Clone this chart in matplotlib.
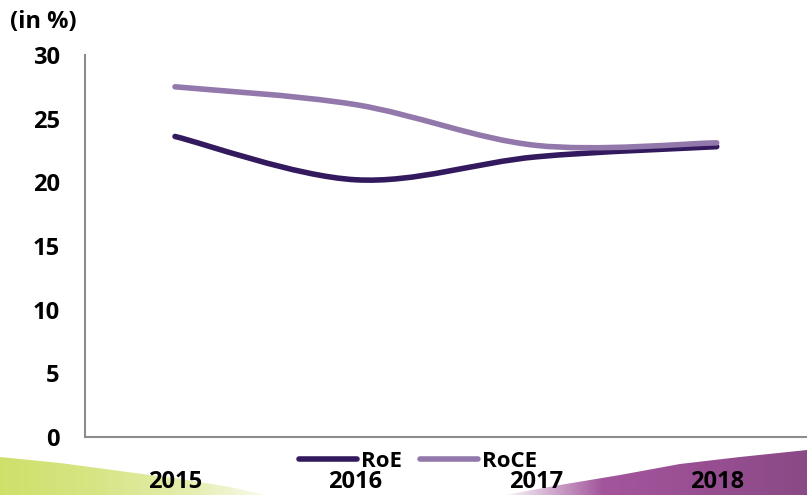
import numpy as np
import matplotlib.pyplot as plt
from matplotlib.path import Path
from matplotlib.patches import PathPatch, Polygon
from matplotlib.lines import Line2D
from matplotlib.colors import LinearSegmentedColormap

years = ["2015", "2016", "2017", "2018"]
roe = [23.6, 20.2, 22.0, 22.8]
roce = [27.5, 26.1, 22.9, 23.1]

roe_color = "#331a5e"
roce_color = "#9379ab"

plt.rcParams["font.family"] = ["Open Sans", "DejaVu Sans"]
plt.rcParams["font.weight"] = "bold"


def smooth_path(xs, ys):
    # excel-style smoothed line: catmull-rom control points -> cubic bezier
    pts = np.column_stack([xs, ys]).astype(float)
    n = len(pts)
    verts = [pts[0]]
    codes = [Path.MOVETO]
    for i in range(n - 1):
        p0 = pts[max(i - 1, 0)]
        p1 = pts[i]
        p2 = pts[i + 1]
        p3 = pts[min(i + 2, n - 1)]
        verts += [p1 + (p2 - p0) / 6, p2 - (p3 - p1) / 6, p2]
        codes += [Path.CURVE4] * 3
    return Path(verts, codes)


fig = plt.figure(figsize=(8.07, 4.95), dpi=100)

# background swooshes
bg = fig.add_axes([0, 0, 1, 1], zorder=0)
bg.set_xlim(0, 807)
bg.set_ylim(495, 0)
bg.axis("off")

green = LinearSegmentedColormap.from_list("g", ["#cfe06a", "#d8e585", "#e6eeb0", "#ffffff"])
grad = np.linspace(0, 1, 256).reshape(1, -1)
im = bg.imshow(grad, cmap=green, extent=[0, 290, 495, 440], aspect="auto")
gpoly = Polygon([(0, 457), (60, 463), (120, 471), (180, 479), (230, 487),
                 (265, 495), (0, 495)], closed=True, transform=bg.transData)
im.set_clip_path(gpoly)

purple = LinearSegmentedColormap.from_list("p", ["#ffffff", "#a3559c", "#984f92", "#8a4a86"])
im2 = bg.imshow(grad, cmap=purple, extent=[500, 807, 495, 440], aspect="auto")
ppoly = Polygon([(505, 495), (560, 485), (620, 475), (680, 464), (740, 457),
                 (807, 450), (807, 495)], closed=True, transform=bg.transData)
im2.set_clip_path(ppoly)

ax = fig.add_axes([0.105, 0.117, 0.895, 0.772], zorder=1)
ax.patch.set_alpha(0)

x = np.arange(len(years))
ax.add_patch(PathPatch(smooth_path(x, roe), fill=False, edgecolor=roe_color,
                       lw=4, capstyle="round"))
ax.add_patch(PathPatch(smooth_path(x, roce), fill=False, edgecolor=roce_color,
                       lw=4, capstyle="round"))

ax.set_xlim(-0.5, len(years) - 0.5)
ax.set_ylim(0, 30)
ax.set_yticks(range(0, 31, 5))
ax.set_xticks(x)
ax.set_xticklabels(years)
ax.tick_params(axis="y", length=0, pad=18, labelsize=17)
ax.tick_params(axis="x", length=0, pad=24, labelsize=17)
for s in ["top", "right"]:
    ax.spines[s].set_visible(False)
for s in ["left", "bottom"]:
    ax.spines[s].set_color("#8c8c8c")
    ax.spines[s].set_linewidth(1.5)

handles = [Line2D([], [], color=roe_color, lw=4, solid_capstyle="round"),
           Line2D([], [], color=roce_color, lw=4, solid_capstyle="round")]
fig.legend(handles, ["RoE", "RoCE"], loc="center", bbox_to_anchor=(0.518, 0.068),
           ncol=2, frameon=False, handlelength=2.6,
           handletextpad=0.2, columnspacing=0.8,
           prop={"family": ["Open Sans", "DejaVu Sans"], "weight": "bold", "size": 16})

fig.text(0.012, 0.955, "(in %)", fontsize=17, ha="left", va="center")

fig.savefig("out.png", dpi=100)
